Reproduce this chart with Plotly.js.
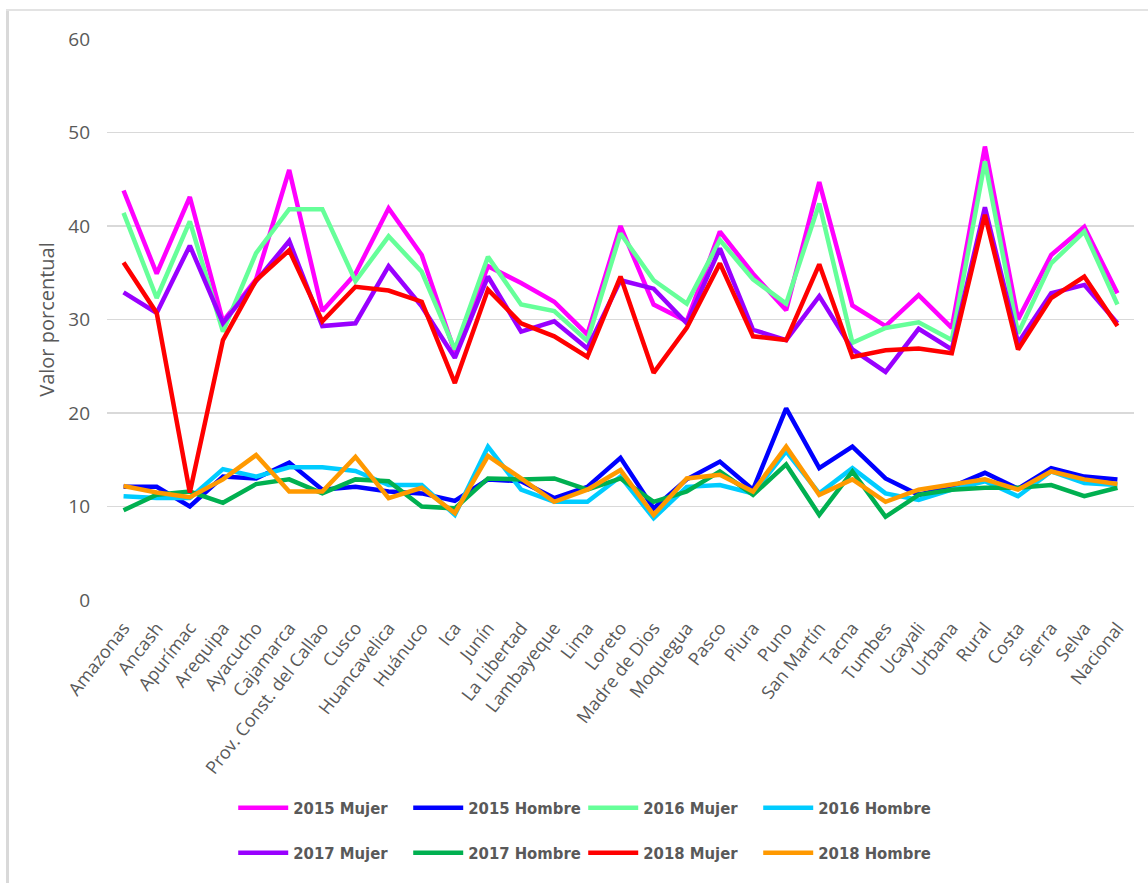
<!DOCTYPE html>
<html>
<head>
<meta charset="utf-8">
<script src="https://cdn.plot.ly/plotly-3.0.1.min.js"></script>
<style>
  html, body { margin: 0; padding: 0; background: #ffffff; }
  #wrap { position: relative; width: 1148px; height: 883px; overflow: hidden; }
  #chart { position: absolute; left: 0; top: 0; width: 1148px; height: 883px; }
  #frameL { position: absolute; left: 6px; top: 9px; width: 3px; height: 874px; background: #d9d9d9; pointer-events: none; }
  #frameT { position: absolute; left: 6px; top: 9px; width: 1142px; height: 2px; background: #e3e3e3; pointer-events: none; }
</style>
</head>
<body>
<div id="wrap">
  <div id="chart"></div>
  <div id="frameL"></div>
  <div id="frameT"></div>
</div>
<script>
const categories = ["Amazonas","Ancash","Apurímac","Arequipa","Ayacucho","Cajamarca","Prov. Const. del Callao","Cusco","Huancavelica","Huánuco","Ica","Junín","La Libertad","Lambayeque","Lima","Loreto","Madre de Dios","Moquegua","Pasco","Piura","Puno","San Martín","Tacna","Tumbes","Ucayali","Urbana","Rural","Costa","Sierra","Selva","Nacional"];

const mujer2015  = [43.8,34.9,43.1,29.8,34.3,46.0,30.9,34.9,41.9,36.9,26.5,35.7,33.9,31.9,28.4,40.0,31.6,29.8,39.4,34.9,31.0,44.7,31.5,29.3,32.6,29.1,48.5,30.0,36.9,39.9,32.8];
const hombre2015 = [12.1,12.1,10.0,13.2,13.0,14.7,11.8,12.1,11.6,11.4,10.6,12.9,12.7,10.9,12.1,15.2,9.8,12.9,14.8,11.8,20.5,14.1,16.4,13.0,11.25,12.1,13.6,11.9,14.1,13.2,12.9];
const mujer2016  = [41.4,32.3,40.5,28.7,37.1,41.8,41.8,34.1,38.9,35.1,26.8,36.7,31.6,30.9,27.7,39.2,34.2,31.7,38.5,34.3,31.7,42.4,27.5,29.1,29.7,27.8,46.9,28.5,36.0,39.4,31.6];
const hombre2016 = [11.1,10.9,10.9,14.0,13.2,14.2,14.2,13.8,12.3,12.3,9.1,16.4,11.8,10.5,10.5,13.2,8.75,12.1,12.3,11.4,15.9,11.4,14.1,11.4,10.7,11.8,12.7,11.1,13.75,12.5,12.3];
const mujer2017  = [32.9,30.7,37.9,29.6,34.1,38.4,29.3,29.6,35.7,31.4,25.9,34.6,28.7,29.8,26.9,34.2,33.3,29.6,37.6,28.9,27.8,32.5,26.8,24.4,29.0,26.8,42.0,27.5,32.8,33.7,29.6];
const hombre2017 = [9.6,11.25,11.6,10.4,12.4,12.9,11.4,12.9,12.7,10.0,9.8,13.0,12.9,13.0,11.8,13.0,10.5,11.6,13.75,11.25,14.5,9.1,13.75,8.9,11.25,11.8,12.0,12.0,12.3,11.1,12.0];
const mujer2018  = [36.1,30.7,11.5,27.8,34.2,37.4,29.8,33.5,33.1,31.9,23.2,33.2,29.6,28.2,26.0,34.6,24.3,29.1,36.0,28.2,27.8,35.9,26.0,26.7,26.9,26.4,41.2,26.8,32.3,34.6,29.3];
const hombre2018 = [12.2,11.5,11.0,12.9,15.5,11.6,11.6,15.3,10.9,12.0,9.3,15.4,13.0,10.5,11.8,13.9,9.1,13.0,13.4,11.6,16.4,11.25,12.9,10.5,11.8,12.3,12.9,11.8,13.75,12.9,12.4];

const seriesNames = ["2015 Mujer","2015 Hombre","2016 Mujer","2016 Hombre","2017 Mujer","2017 Hombre","2018 Mujer","2018 Hombre"];
const seriesValues = [mujer2015, hombre2015, mujer2016, hombre2016, mujer2017, hombre2017, mujer2018, hombre2018];
const seriesColors = ["#FF00FF","#0000FF","#66FF99","#00CCFF","#9900FF","#00B050","#FF0000","#FF9900"];

const traces = seriesValues.map((vals, i) => ({
  type: "scatter",
  mode: "lines",
  name: seriesNames[i],
  x: categories,
  y: vals,
  line: { color: seriesColors[i], width: 4.5 },
  legend: i < 4 ? "legend" : "legend2"
}));

const legendFont = { family: "Liberation Sans Narrow, DejaVu Sans Condensed, Arial Narrow, sans-serif", size: 16.5, color: "#595959", weight: "bold" };

const layout = {
  width: 1148,
  height: 883,
  margin: { l: 107, r: 14, t: 39, b: 283 },
  paper_bgcolor: "#ffffff",
  plot_bgcolor: "#ffffff",
  showlegend: true,
  xaxis: {
    type: "category",
    range: [-0.5, 30.5],
    autorange: false,
    automargin: false,
    tickangle: -52,
    tickfont: { family: "Open Sans, Noto Sans, sans-serif", size: 18, color: "#595959" },
    showgrid: false,
    showline: false,
    ticks: "",
    zeroline: false,
    ticklabelstandoff: 13
  },
  yaxis: {
    range: [0, 60],
    autorange: false,
    automargin: false,
    dtick: 10,
    tickfont: { family: "Open Sans, Noto Sans, sans-serif", size: 19, color: "#595959" },
    gridcolor: "#d9d9d9",
    gridwidth: 1.5,
    zeroline: false,
    showline: false,
    ticks: "",
    ticklabelstandoff: 16,
    title: { text: "Valor porcentual", font: { family: "Open Sans, Noto Sans, sans-serif", size: 20, color: "#595959" }, standoff: 8 }
  },
  legend: {
    orientation: "h",
    x: 0.1229, xanchor: "left",
    y: -0.3708, yanchor: "middle",
    font: legendFont,
    entrywidth: 110, entrywidthmode: "pixels",
    itemwidth: 50,
    bgcolor: "rgba(0,0,0,0)"
  },
  legend2: {
    orientation: "h",
    x: 0.1229, xanchor: "left",
    y: -0.451, yanchor: "middle",
    font: legendFont,
    entrywidth: 110, entrywidthmode: "pixels",
    itemwidth: 50,
    bgcolor: "rgba(0,0,0,0)"
  }
};

Plotly.newPlot("chart", traces, layout, { displayModeBar: false, staticPlot: true });
</script>
</body>
</html>
